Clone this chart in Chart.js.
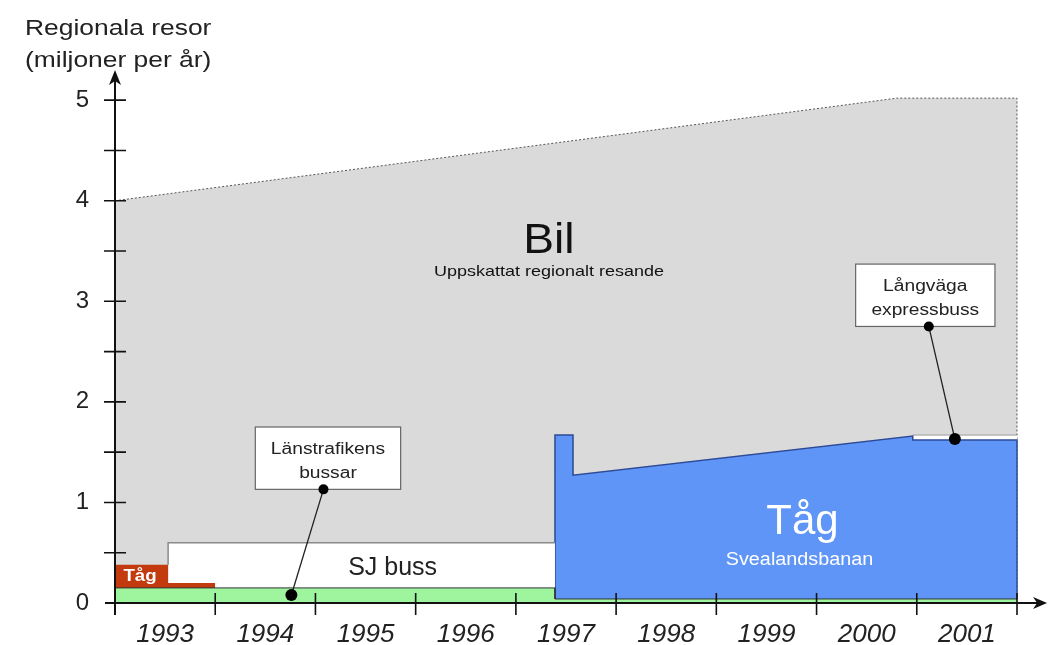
<!DOCTYPE html>
<html>
<head>
<meta charset="utf-8">
<script src="https://cdn.jsdelivr.net/npm/chart.js@4.4.1/dist/chart.umd.min.js"></script>
<style>
  html, body { margin: 0; padding: 0; background: #fff; }
  #wrap { width: 1049px; height: 645px; }
</style>
</head>
<body>
<div id="wrap"><canvas id="chart" width="1049" height="645"></canvas></div>
<script>
// x = year (1993.0 is the start of 1993), y = cumulative trips, millions per year
const years = ['1993', '1994', '1995', '1996', '1997', '1998', '1999', '2000', '2001'];
const yTicks = [0, 1, 2, 3, 4, 5];

// Bil (estimated regional car travel) - top of everything
const bilX   = [1993, 2000.8, 2002, 2002];
const bilTop = [4.0, 5.02, 5.02, 0];
// Långväga expressbuss
const expressX   = [2000.96, 2002];
const expressTop = [1.67, 1.67];
// Tåg Svealandsbanan
const svealandX   = [1997.39, 1997.39, 1997.57, 1997.57, 2000.96, 2000.96, 2002, 2002];
const svealandTop = [0, 1.67, 1.67, 1.27, 1.66, 1.62, 1.62, 0.04];
// SJ buss
const sjX   = [1993.53, 1993.53, 1997.39];
const sjTop = [0.38, 0.6, 0.6];
// old Tåg
const tagX   = [1993, 1993.53, 1993.53, 1994, 1994];
const tagTop = [0.38, 0.38, 0.2, 0.2, 0.15];
// Länstrafikens bussar
const lanX   = [1993, 1997.39, 1997.39, 2002];
const lanTop = [0.15, 0.15, 0.04, 0.04];

const pts = (xs, ys) => xs.map((x, i) => ({ x: x, y: ys[i] }));

Chart.defaults.font.family = '"Liberation Sans", Arial, sans-serif';

function area(data, fillColor, lineColor, lineWidth, dash) {
  return {
    data: data,
    backgroundColor: fillColor,
    borderColor: lineColor,
    borderWidth: lineWidth,
    borderDash: dash || [],
    fill: 'origin',
    pointRadius: 0,
    tension: 0,
    clip: false
  };
}

// free texts, placed in data coordinates
const texts = [
  { t: 'Bil', x: 1997.33, y: 3.48, size: 42, sx: 1.1, color: '#111' },
  { t: 'Uppskattat regionalt resande', x: 1997.33, y: 3.25, size: 15, sx: 1.2, color: '#111' },
  { t: 'SJ buss', x: 1995.77, y: 0.28, size: 25, sx: 1.0, color: '#222' },
  { t: 'Tåg', x: 1993.25, y: 0.22, size: 17, sx: 1.1, color: '#fff', bold: true },
  { t: 'Tåg', x: 1999.86, y: 0.69, size: 42, sx: 1.0, color: '#fff' },
  { t: 'Svealandsbanan', x: 1999.83, y: 0.38, size: 18, sx: 1.1, color: '#fff' }
];

const callouts = [
  { lines: ['Länstrafikens', 'bussar'], box: [1994.40, 1995.85, 1.75, 1.13],
    from: [1995.08, 1.13], to: [1994.76, 0.08] },
  { lines: ['Långväga', 'expressbuss'], box: [2000.39, 2001.78, 3.37, 2.75],
    from: [2001.12, 2.75], to: [2001.38, 1.63] }
];

function stretchText(ctx, t, x, y, size, sx, color, bold, italic, align) {
  ctx.save();
  ctx.translate(x, y);
  ctx.scale(sx, 1);
  ctx.font = (italic ? 'italic ' : '') + (bold ? 'bold ' : '') + size + 'px "Liberation Sans", Arial, sans-serif';
  ctx.fillStyle = color;
  ctx.textAlign = align || 'center';
  ctx.textBaseline = 'alphabetic';
  ctx.fillText(t, 0, 0);
  ctx.restore();
}

const overlay = {
  id: 'overlay',
  afterDraw(chart) {
    const ctx = chart.ctx;
    const xs = chart.scales.x, ys = chart.scales.y;
    const px = v => xs.getPixelForValue(v);
    const py = v => ys.getPixelForValue(v);
    const x0 = px(1993), y0 = py(0);

    ctx.save();
    // axes
    ctx.strokeStyle = '#111';
    ctx.fillStyle = '#111';
    ctx.lineWidth = 2;
    ctx.beginPath();
    ctx.moveTo(x0, y0 + 12);
    ctx.lineTo(x0, py(5.3) + 6);
    ctx.moveTo(x0 - 10, y0);
    ctx.lineTo(px(2002.3) - 6, y0);
    ctx.stroke();
    // arrow heads
    let tipY = py(5.3);
    ctx.beginPath();
    ctx.moveTo(x0, tipY);
    ctx.lineTo(x0 + 6, tipY + 15);
    ctx.lineTo(x0, tipY + 11);
    ctx.lineTo(x0 - 6, tipY + 15);
    ctx.closePath();
    ctx.fill();
    let tipX = px(2002.3);
    ctx.beginPath();
    ctx.moveTo(tipX, y0);
    ctx.lineTo(tipX - 14, y0 - 6);
    ctx.lineTo(tipX - 10, y0);
    ctx.lineTo(tipX - 14, y0 + 6);
    ctx.closePath();
    ctx.fill();
    // tick marks
    ctx.lineWidth = 1.6;
    ctx.beginPath();
    for (let v = 0.5; v <= 5; v += 0.5) {
      ctx.moveTo(x0 - 11, py(v));
      ctx.lineTo(x0 + 11, py(v));
    }
    for (let yr = 1994; yr <= 2002; yr++) {
      ctx.moveTo(px(yr), y0 - 10);
      ctx.lineTo(px(yr), y0 + 12);
    }
    ctx.stroke();

    // axis title
    stretchText(ctx, 'Regionala resor', 25, 35, 22, 1.2, '#222', false, false, 'left');
    stretchText(ctx, '(miljoner per år)', 25, 67, 22, 1.2, '#222', false, false, 'left');

    // texts inside the areas
    texts.forEach(d => stretchText(ctx, d.t, px(d.x), py(d.y), d.size, d.sx, d.color, d.bold, false, 'center'));

    // callout boxes
    callouts.forEach(c => {
      const bx1 = px(c.box[0]), bx2 = px(c.box[1]);
      const by1 = py(c.box[2]), by2 = py(c.box[3]);
      ctx.fillStyle = '#fff';
      ctx.fillRect(bx1, by1, bx2 - bx1, by2 - by1);
      ctx.strokeStyle = '#666';
      ctx.lineWidth = 1.2;
      ctx.strokeRect(bx1, by1, bx2 - bx1, by2 - by1);
      const cx = (bx1 + bx2) / 2;
      stretchText(ctx, c.lines[0], cx, by1 + 27, 16, 1.2, '#222');
      stretchText(ctx, c.lines[1], cx, by1 + 51, 16, 1.2, '#222');
      const fx = px(c.from[0]), fy = py(c.from[1]);
      const tx = px(c.to[0]), ty = py(c.to[1]);
      ctx.strokeStyle = '#222';
      ctx.lineWidth = 1.3;
      ctx.beginPath();
      ctx.moveTo(fx, fy);
      ctx.lineTo(tx, ty);
      ctx.stroke();
      ctx.fillStyle = '#000';
      ctx.beginPath();
      ctx.arc(fx, fy, 5, 0, Math.PI * 2);
      ctx.fill();
      ctx.beginPath();
      ctx.arc(tx, ty, 6, 0, Math.PI * 2);
      ctx.fill();
    });
    ctx.restore();
  }
};

new Chart(document.getElementById('chart').getContext('2d'), {
  type: 'line',
  data: {
    datasets: [
      area(pts(lanX, lanTop), '#9ef59e', '#333', 1),
      area(pts(tagX, tagTop), '#c23a0e', 'rgba(0,0,0,0)', 0),
      area(pts(sjX, sjTop), '#ffffff', '#8a8a8a', 1.5),
      area(pts(svealandX, svealandTop), '#5f95f6', '#2c4a96', 1.5),
      area(pts(expressX, expressTop), '#ffffff', '#9a9a9a', 1),
      area(pts(bilX, bilTop), '#dadada', '#555', 1, [2, 2])
    ]
  },
  options: {
    responsive: false,
    animation: false,
    layout: { padding: { top: 70, right: 32, left: 0, bottom: 0 } },
    plugins: { legend: { display: false }, tooltip: { enabled: false } },
    scales: {
      x: {
        type: 'linear',
        min: 1993,
        max: 2002,
        afterBuildTicks: s => { s.ticks = years.map((y, i) => ({ value: 1993.5 + i })); },
        afterFit: s => { s.height = 42; },
        ticks: {
          callback: (v, i) => years[i],
          font: { size: 26, style: 'italic' },
          color: '#222',
          padding: 16,
          maxRotation: 0,
          autoSkip: false
        },
        grid: { display: false, drawTicks: false },
        border: { display: false }
      },
      y: {
        min: 0,
        max: 5.3,
        afterBuildTicks: s => { s.ticks = yTicks.map(v => ({ value: v })); },
        afterFit: s => { s.width = 115; },
        ticks: {
          font: { size: 24 },
          color: '#222',
          padding: 26
        },
        grid: { display: false, drawTicks: false },
        border: { display: false }
      }
    }
  },
  plugins: [overlay]
});
</script>
</body>
</html>
